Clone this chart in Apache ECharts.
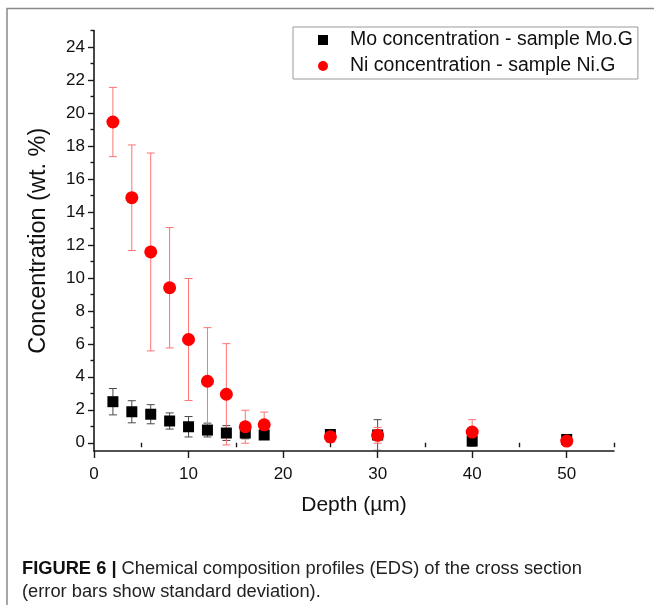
<!DOCTYPE html>
<html>
<head>
<meta charset="utf-8">
<script src="https://cdn.jsdelivr.net/npm/echarts@6/dist/echarts.min.js"></script>
<style>
  html, body { margin: 0; padding: 0; background: #ffffff; }
  #chart { width: 654px; height: 605px; }
</style>
</head>
<body>
<div id="chart"></div>
<script>
// EDS depth profiles: mean concentration (wt. %) and standard deviation per depth (µm)
const depth = [2, 4, 6, 8, 10, 12, 14, 16, 18, 25, 30, 40, 50];
const moValues = [2.49, 1.88, 1.73, 1.32, 0.97, 0.77, 0.59, 0.59, 0.47, 0.5, 0.47, 0.1, 0.2];
const moStdDev = [0.8, 0.67, 0.58, 0.49, 0.62, 0.42, 0.45, 0.35, 0.15, 0.2, 0.93, 0.3, 0.1];
const niValues = [19.45, 14.86, 11.57, 9.4, 6.26, 3.73, 2.94, 0.97, 1.09, 0.36, 0.45, 0.65, 0.1];
const niStdDev = [2.1, 3.2, 6.0, 3.65, 3.7, 3.25, 3.07, 1.0, 0.77, 0.35, 0.48, 0.75, 0.1];

const seriesNames = ['Mo concentration - sample Mo.G', 'Ni concentration - sample Ni.G'];
const xMajorTicks = [0, 10, 20, 30, 40, 50];
const xMinorTicks = [5, 15, 25, 35, 45, 55];
const yMajorTicks = [0, 2, 4, 6, 8, 10, 12, 14, 16, 18, 20, 22, 24];
const yMinorTicks = [1, 3, 5, 7, 9, 11, 13, 15, 17, 19, 21, 23, 25];

const FONT = 'Liberation Sans, Arial, sans-serif';
const AXIS_COLOR = '#1a1a1a';

const chart = echarts.init(document.getElementById('chart'), null, { renderer: 'canvas' });

function rows(xs, ys, es) {
  return xs.map((x, i) => [x, ys[i], es[i]]);
}

// vertical bar with end caps, positioned through the axis scales
function errorBar(color) {
  return function (params, api) {
    const x = api.value(0), y = api.value(1), e = api.value(2);
    const top = api.coord([x, y + e]);
    const bot = api.coord([x, y - e]);
    const hw = 4;
    const style = { stroke: color, lineWidth: 1, fill: null };
    return {
      type: 'group',
      children: [
        { type: 'line', shape: { x1: top[0], y1: top[1], x2: bot[0], y2: bot[1] }, style },
        { type: 'line', shape: { x1: top[0] - hw, y1: top[1], x2: top[0] + hw, y2: top[1] }, style },
        { type: 'line', shape: { x1: bot[0] - hw, y1: bot[1], x2: bot[0] + hw, y2: bot[1] }, style }
      ]
    };
  };
}

const baseX = { type: 'value', min: 0, max: 55, position: 'bottom', splitLine: { show: false } };
const baseY = { type: 'value', min: -0.5, max: 25, position: 'left', splitLine: { show: false } };

const option = {
  animation: false,
  backgroundColor: '#ffffff',
  grid: { left: 94, right: 40, top: 30.5, bottom: 154 },
  xAxis: [
    Object.assign({}, baseX, {
      name: 'Depth (\u00b5m)',
      nameLocation: 'middle',
      nameGap: 44,
      nameTextStyle: { fontFamily: FONT, fontSize: 21, color: '#111' },
      axisLine: { show: true, onZero: false, lineStyle: { color: AXIS_COLOR, width: 1.6 } },
      axisTick: { show: true, length: 7, customValues: xMajorTicks, lineStyle: { color: AXIS_COLOR, width: 1.4 } },
      axisLabel: { show: true, customValues: xMajorTicks, margin: 15, fontFamily: FONT, fontSize: 17, color: '#111' }
    }),
    Object.assign({}, baseX, {
      axisLine: { show: false },
      axisTick: { show: true, length: 4.5, customValues: xMinorTicks, lineStyle: { color: AXIS_COLOR, width: 1.4 } },
      axisLabel: { show: false }
    })
  ],
  yAxis: [
    Object.assign({}, baseY, {
      name: 'Concentration (wt. %)',
      nameLocation: 'middle',
      nameGap: 43,
      nameTextStyle: { fontFamily: FONT, fontSize: 23.5, color: '#111' },
      axisLine: { show: true, onZero: false, lineStyle: { color: AXIS_COLOR, width: 1.6 } },
      axisTick: { show: true, length: 6, customValues: yMajorTicks, lineStyle: { color: AXIS_COLOR, width: 1.4 } },
      axisLabel: { show: true, customValues: yMajorTicks, margin: 9, fontFamily: FONT, fontSize: 17, color: '#111' }
    }),
    Object.assign({}, baseY, {
      axisLine: { show: false },
      axisTick: { show: true, length: 3.5, customValues: yMinorTicks, lineStyle: { color: AXIS_COLOR, width: 1.4 } },
      axisLabel: { show: false }
    })
  ],
  legend: {
    left: 293,
    top: 27,
    orient: 'vertical',
    itemGap: 6,
    itemWidth: 10,
    itemHeight: 10,
    padding: [3, 5, 3, 25],
    borderColor: '#9a9a9a',
    borderWidth: 1,
    data: [
      { name: seriesNames[0], icon: 'rect' },
      { name: seriesNames[1], icon: 'circle' }
    ],
    textStyle: { fontFamily: FONT, fontSize: 19.5, color: '#111', lineHeight: 19, padding: [0, 0, 0, 17] }
  },
  series: [
    {
      name: 'Mo error',
      type: 'custom',
      xAxisIndex: 0, yAxisIndex: 0,
      renderItem: errorBar('#4a4a4a'),
      encode: { x: 0, y: 1 },
      clip: false,
      silent: true,
      data: rows(depth, moValues, moStdDev)
    },
    {
      name: seriesNames[0],
      type: 'scatter',
      xAxisIndex: 0, yAxisIndex: 0,
      symbol: 'rect',
      symbolSize: 11,
      itemStyle: { color: '#000000', opacity: 1 },
      data: depth.map((x, i) => [x, moValues[i]])
    },
    {
      name: 'Ni error',
      type: 'custom',
      xAxisIndex: 0, yAxisIndex: 0,
      renderItem: errorBar('#ff7373'),
      encode: { x: 0, y: 1 },
      clip: false,
      silent: true,
      data: rows(depth, niValues, niStdDev)
    },
    {
      name: seriesNames[1],
      type: 'scatter',
      xAxisIndex: 0, yAxisIndex: 0,
      symbol: 'circle',
      symbolSize: 13,
      itemStyle: { color: '#ff0000', opacity: 1 },
      data: depth.map((x, i) => [x, niValues[i]])
    }
  ],
  graphic: [
    {
      type: 'polyline',
      shape: { points: [[7, 605], [7, 8.5], [654, 8.5]] },
      style: { stroke: '#8a8a8a', lineWidth: 1.5, fill: null },
      silent: true
    },
    {
      type: 'text',
      left: 22,
      top: 557,
      style: {
        text: '{b|FIGURE 6 |} Chemical composition profiles (EDS) of the cross section\n(error bars show standard deviation).',
        fontFamily: FONT,
        fontSize: 18.3,
        lineHeight: 23,
        fill: '#222',
        rich: {
          b: { fontFamily: FONT, fontSize: 18.3, fontWeight: 'bold', fill: '#111', lineHeight: 23 }
        }
      },
      silent: true
    }
  ]
};

chart.setOption(option);
</script>
</body>
</html>
